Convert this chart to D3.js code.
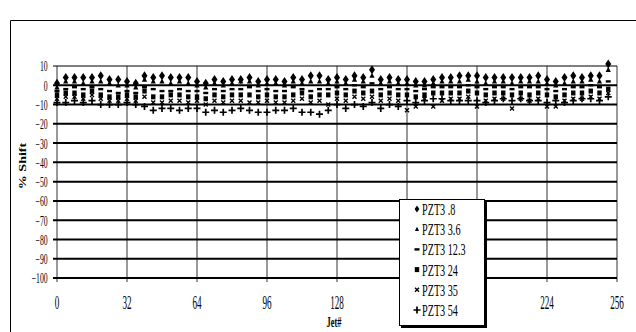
<!DOCTYPE html>
<html>
<head>
<meta charset="utf-8">
<script src="https://cdn.jsdelivr.net/npm/d3@7"></script>
<style>
  body { margin: 0; background: #fff; }
  text { font-family: "Liberation Serif", serif; fill: #000; }
</style>
</head>
<body>
<div id="vis"></div>
<script>
// jets every 4 positions
const jets = d3.range(64).map(function(i) { return i * 4; });
const xTicks = [0, 32, 64, 96, 128, 160, 192, 224, 256];
const yTicks = [10, 0, -10, -20, -30, -40, -50, -60, -70, -80, -90, -100];
const seriesNames = ['PZT3 .8', 'PZT3 3.6', 'PZT3 12.3', 'PZT3 24', 'PZT3 35', 'PZT3 54'];

const pzt08 = [1,4,4,4,4,5,3,3, 2,1,5,4,5,4,4,4, 2,1,3,2,3,3,4,2, 3,3,2,4,3,5,5,3,
  4,3,5,4,8,3,4,3, 3,2,2,3,4,4,5,5, 5,4,4,4,4,4,4,5, 3,2,4,5,4,5,5,11];
const pzt36 = [-1,2,2,1,2,2,1,0, 0,-1,3,2,2,1,2,1, 0,-1,1,0,1,2,2,0, 1,1,0,2,1,2,2,1,
  2,1,3,2,5,1,2,1, 1,0,0,1,2,2,2,3, 2,1,2,2,1,2,2,2, 1,0,1,2,2,3,2,8];
const pzt123 = [-3,-2,-1,-2,-1,-2,-3,-4, -3,-4,-1,-2,-3,-3,-2,-3, -3,-4,-2,-3,-2,-2,-1,-3, -2,-3,-3,-1,-2,-3,-2,-2,
  -1,-2,0,-1,1,-2,-1,-2, -2,-3,-2,-1,-1,-1,-1,0, -1,-2,-1,-1,-2,-1,-1,-1, -2,-3,-2,-1,-1,0,-1,2];
const pzt24 = [-5,-4,-4,-5,-3,-5,-6,-6, -5,-6,-3,-6,-6,-5,-5,-6, -6,-7,-5,-6,-5,-5,-5,-6, -5,-6,-6,-5,-4,-6,-5,-5,
  -4,-5,-3,-4,-3,-5,-4,-5, -5,-6,-5,-4,-4,-4,-4,-3, -4,-5,-4,-4,-5,-4,-5,-4, -5,-6,-5,-4,-4,-3,-4,-2];
const pzt35 = [-7,-6,-6,-7,-5,-7,-8,-8, -7,-8,-6,-9,-9,-8,-8,-9, -8,-10,-8,-9,-8,-8,-9,-9, -8,-9,-9,-8,-7,-9,-8,-10,
  -7,-8,-6,-7,-6,-8,-7,-8, -13,-11,-7,-11,-8,-7,-7,-6, -11,-8,-7,-7,-12,-7,-8,-7, -11,-11,-8,-7,-7,-6,-7,-4];
const pzt54 = [-9,-9,-8,-9,-8,-10,-10,-10, -9,-10,-11,-13,-12,-12,-13,-12, -12,-14,-13,-14,-13,-12,-13,-14, -14,-13,-13,-12,-14,-14,-15,-13,
  -10,-12,-10,-11,-9,-12,-10,-11, -8,-9,-8,-7,-7,-8,-8,-8, -8,-9,-8,-7,-8,-7,-8,-8, -9,-8,-9,-8,-7,-7,-8,-6];

const series = [pzt08, pzt36, pzt123, pzt24, pzt35, pzt54];

const width = 636, height = 332;
const plot = { left: 57, right: 617, top: 66, bottom: 278 };

const svg = d3.select('#vis').append('svg')
  .attr('width', width)
  .attr('height', height);

svg.append('rect').attr('width', width).attr('height', height).attr('fill', '#fff');

// outer chart frame (right edge is cut off in the picture)
svg.append('path')
  .attr('d', 'M10.5,332 V20.5 H636')
  .attr('fill', 'none')
  .attr('stroke', '#000')
  .attr('stroke-width', 1);

const x = d3.scaleLinear().domain([0, 256]).range([plot.left, plot.right]);
const y = d3.scaleLinear().domain([-100, 10]).range([plot.bottom, plot.top]);

// vertical gridlines
svg.append('g').selectAll('line')
  .data(xTicks)
  .join('line')
  .attr('x1', function(d) { return x(d); })
  .attr('x2', function(d) { return x(d); })
  .attr('y1', plot.top)
  .attr('y2', plot.bottom + 4)
  .attr('stroke', '#777')
  .attr('stroke-width', 1.5);

// horizontal gridlines
svg.append('g').selectAll('line')
  .data(yTicks)
  .join('line')
  .attr('x1', plot.left - 4)
  .attr('x2', plot.right)
  .attr('y1', function(d) { return y(d); })
  .attr('y2', function(d) { return y(d); })
  .attr('stroke', '#000')
  .attr('stroke-width', function(d) { return d === 10 ? 1.2 : 2; });

// axes (labels only, lines drawn above)
const yAxis = svg.append('g')
  .attr('transform', 'translate(' + plot.left + ',0)')
  .call(d3.axisLeft(y).tickValues(yTicks).tickSize(0).tickFormat(d3.format('d')));
yAxis.select('.domain').remove();
yAxis.selectAll('text')
  .attr('x', -17)
  .attr('dy', '0.35em')
  .attr('transform', 'scale(0.55,1)')
  .style('font-family', '"Liberation Serif", serif')
  .style('font-size', '14px');

const xAxis = svg.append('g')
  .attr('transform', 'translate(0,' + plot.bottom + ')')
  .call(d3.axisBottom(x).tickValues(xTicks).tickSize(0).tickFormat(d3.format('d')));
xAxis.select('.domain').remove();
xAxis.selectAll('text')
  .attr('y', 31)
  .attr('dy', 0)
  .style('font-family', '"Liberation Serif", serif')
  .style('font-size', '19px');
// narrow the x labels around their own centre
xAxis.selectAll('.tick').each(function(d) {
  d3.select(this).attr('transform', 'translate(' + x(d) + ',0) scale(0.48,1)');
});

// markers
function drawMarker(g, k, small) {
  const s = small ? 0.8 : 1;
  if (k === 0) {
    g.append('path').attr('d', 'M0,-4.5L3,0L0,4.5L-3,0Z').attr('fill', '#000')
      .attr('transform', 'scale(' + s + ')');
  } else if (k === 1) {
    g.append('path').attr('d', 'M0,-3L2.6,2.2H-2.6Z').attr('fill', '#000')
      .attr('transform', 'scale(' + s + ')');
  } else if (k === 2) {
    g.append('rect').attr('x', -2.5).attr('y', -1.2).attr('width', 5).attr('height', 2.4).attr('fill', '#000');
  } else if (k === 3) {
    g.append('rect').attr('x', -2.2).attr('y', -2.5).attr('width', 4.4).attr('height', 5).attr('fill', '#000');
  } else if (k === 4) {
    g.append('path').attr('d', 'M-2,-2L2,2M-2,2L2,-2')
      .attr('stroke', '#000').attr('stroke-width', 1.4);
  } else {
    g.append('path').attr('d', 'M-3.5,0H3.5M0,-3.5V3.5')
      .attr('stroke', '#000').attr('stroke-width', 1.7);
  }
}

const marks = svg.append('g');
series.forEach(function(vals, k) {
  vals.forEach(function(v, i) {
    const g = marks.append('g')
      .attr('transform', 'translate(' + x(jets[i]) + ',' + y(v) + ')');
    drawMarker(g, k, false);
  });
});

// axis titles
svg.append('text')
  .attr('transform', 'translate(26,166) rotate(-90) scale(1,0.7)')
  .attr('text-anchor', 'middle')
  .style('font-weight', 'bold')
  .style('font-size', '14px')
  .text('% Shift');

svg.append('text')
  .attr('transform', 'translate(334,327) scale(0.6,1)')
  .attr('text-anchor', 'middle')
  .style('font-weight', 'bold')
  .style('font-size', '14px')
  .text('Jet#');

// legend
const legend = svg.append('g').attr('transform', 'translate(399,199)');
legend.append('rect')
  .attr('x', 2).attr('y', 2).attr('width', 86).attr('height', 127)
  .attr('fill', '#000');
legend.append('rect')
  .attr('x', 0.5).attr('y', 0.5).attr('width', 85).attr('height', 126)
  .attr('fill', '#fff')
  .attr('stroke', '#000')
  .attr('stroke-width', 1);

seriesNames.forEach(function(name, k) {
  const row = legend.append('g').attr('transform', 'translate(0,' + (10 + k * 20.2) + ')');
  drawMarker(row.append('g').attr('transform', 'translate(18,0)'), k, true);
  row.append('text')
    .attr('transform', 'translate(23,0) scale(0.6,1)')
    .attr('dy', '0.35em')
    .style('font-size', '17px')
    .text(name);
});
</script>
</body>
</html>
